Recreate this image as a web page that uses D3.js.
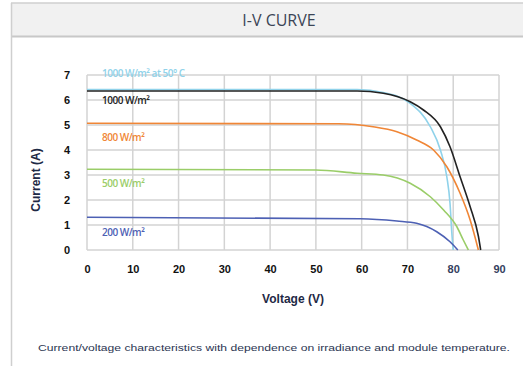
<!DOCTYPE html>
<html><head><meta charset="utf-8">
<script src="https://cdn.jsdelivr.net/npm/d3@7"></script>
<style>html,body{margin:0;padding:0;background:#fff;}svg{display:block;}</style>
</head><body>
<svg id="c" width="523" height="366"></svg>
<script>
// ---- data ----
const seriesLabels = ["1000 W/m² at 50° C", "1000 W/m²", "800 W/m²", "500 W/m²", "200 W/m²"];
const seriesColors = ["#8fd2ea", "#222222", "#f08636", "#9acd68", "#4d60b4"];
const hot1000V = [0, 59, 64.7, 70.6, 75, 77.2, 78.6, 79.3, 79.7, 80];
const hot1000I = [6.42, 6.42, 6.3, 5.87, 4.93, 4.0, 2.93, 1.87, 0.67, 0];
const w1000V = [0, 59, 64.7, 70.6, 73.5, 77.2, 79.3, 81.5, 83.7, 85.5, 86];
const w1000I = [6.36, 6.36, 6.27, 5.93, 5.6, 4.93, 4.13, 2.93, 1.73, 0.55, 0];
const w800V = [0, 55, 62.5, 67.7, 72, 75.7, 78.6, 81.5, 83.7, 85.5];
const w800I = [5.07, 5.05, 4.93, 4.73, 4.4, 4.0, 3.33, 2.27, 1.2, 0];
const w500V = [0, 50, 59, 64.7, 70.6, 75, 77.9, 80.8, 82.2, 83.3];
const w500I = [3.23, 3.2, 3.07, 3.0, 2.67, 2.13, 1.6, 0.93, 0.4, 0];
const w200V = [0, 59.7, 67.7, 72, 76.4, 79.3, 81];
const w200I = [1.31, 1.25, 1.16, 1.07, 0.73, 0.33, 0];
const xTicks = [0, 10, 20, 30, 40, 50, 60, 70, 80, 90];
const yTicks = [0, 1, 2, 3, 4, 5, 6, 7];
const labelCurrents = [7.05, 6.0, 4.5, 2.65, 0.7];

const seriesV = [hot1000V, w1000V, w800V, w500V, w200V];
const seriesI = [hot1000I, w1000I, w800I, w500I, w200I];

// ---- drawing ----
const svg = d3.select("#c");
svg.append("rect").attr("x", 11).attr("y", 3).attr("width", 520).attr("height", 34)
  .attr("fill", "#f1f1f1");
svg.append("line").attr("x1", 11).attr("x2", 523).attr("y1", 3).attr("y2", 3)
  .attr("stroke", "#cfcfcf").attr("stroke-width", 1.5);
svg.append("line").attr("x1", 11).attr("x2", 523).attr("y1", 36.5).attr("y2", 36.5)
  .attr("stroke", "#c8c8c8").attr("stroke-width", 2);
svg.append("line").attr("x1", 11.5).attr("x2", 11.5).attr("y1", 3).attr("y2", 366)
  .attr("stroke", "#cfcfcf").attr("stroke-width", 1.5);
svg.append("text").attr("x", 279).attr("y", 25.5).attr("text-anchor", "middle")
  .attr("font-family", "Open Sans, Liberation Sans, sans-serif").attr("font-size", 16)
  .attr("fill", "#3b4556").text("I-V CURVE");

const x = d3.scaleLinear().domain([0, 90]).range([87, 499]);
const y = d3.scaleLinear().domain([0, 7]).range([250, 75]);

// grid
const g = svg.append("g");
g.selectAll("line.v").data(xTicks).join("line")
  .attr("x1", d => x(d)).attr("x2", d => x(d)).attr("y1", y(7)).attr("y2", y(0))
  .attr("stroke", "#d3d3d3").attr("stroke-width", 1.5);
g.selectAll("line.h").data(yTicks).join("line")
  .attr("x1", x(0)).attr("x2", x(90)).attr("y1", d => y(d)).attr("y2", d => y(d))
  .attr("stroke", "#d3d3d3").attr("stroke-width", 1.5);

// axes
const fmt = d3.format("d");
const xAxis = svg.append("g").attr("transform", `translate(0,${y(0) + 15})`)
  .call(d3.axisBottom(x).tickValues(xTicks).tickFormat(fmt).tickSize(0).tickPadding(0));
xAxis.select(".domain").remove();
xAxis.selectAll("text")
  .attr("font-family", "Liberation Sans, Arial, sans-serif").attr("font-size", 11)
  .attr("font-weight", "bold")
  .attr("fill", d => d >= 80 ? "#34405e" : "#111").attr("dy", "0.71em");

const yAxis = svg.append("g").attr("transform", `translate(${x(0) - 17},0)`)
  .call(d3.axisLeft(y).tickValues(yTicks).tickFormat(fmt).tickSize(0).tickPadding(0));
yAxis.select(".domain").remove();
yAxis.selectAll("text")
  .attr("font-family", "Liberation Sans, Arial, sans-serif").attr("font-size", 11)
  .attr("font-weight", "bold").attr("fill", "#111");

// axis titles
svg.append("text").attr("transform", "translate(40,180) rotate(-90)")
  .attr("text-anchor", "middle").attr("font-family", "Liberation Sans, Arial, sans-serif")
  .attr("font-size", 12).attr("font-weight", "bold").attr("fill", "#1e2945")
  .text("Current (A)");
svg.append("text").attr("x", 293).attr("y", 303).attr("text-anchor", "middle")
  .attr("font-family", "Liberation Sans, Arial, sans-serif").attr("font-size", 12)
  .attr("font-weight", "bold").attr("fill", "#1e2945").text("Voltage (V)");

// caption
svg.append("text").attr("x", 38).attr("y", 351)
  .attr("font-family", "Liberation Sans, Arial, sans-serif").attr("font-size", 9.5)
  .attr("fill", "#2b3552").attr("textLength", 472).attr("lengthAdjust", "spacingAndGlyphs")
  .text("Current/voltage characteristics with dependence on irradiance and module temperature.");

// curves
const line = d3.line().x(d => x(d[0])).y(d => y(d[1])).curve(d3.curveMonotoneX);
seriesV.forEach((vs, i) => {
  const pts = vs.map((v, k) => [v, seriesI[i][k]]);
  svg.append("path").attr("d", line(pts)).attr("fill", "none")
    .attr("stroke", seriesColors[i]).attr("stroke-width", 1.6);
});

// series labels
svg.selectAll("text.lbl").data(seriesLabels).join("text")
  .attr("class", "lbl")
  .attr("x", 102).attr("y", (d, i) => y(labelCurrents[i]))
  .attr("dy", "0.35em")
  .attr("font-family", "Open Sans, Liberation Sans, sans-serif").attr("font-size", 10)
  .attr("font-weight", 600)
  .attr("letter-spacing", -0.5)
  .attr("fill", (d, i) => seriesColors[i]).text(d => d);
</script>
</body></html>
